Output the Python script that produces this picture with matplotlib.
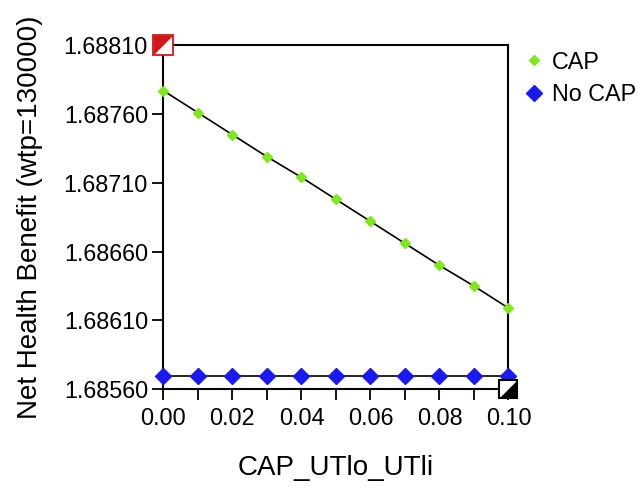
import numpy as np
import matplotlib.pyplot as plt
from matplotlib.lines import Line2D
from matplotlib.ticker import MultipleLocator, FormatStrFormatter

plt.rcParams['font.family'] = ['Liberation Sans', 'DejaVu Sans']

# data
cap_utlo = [0.00, 0.01, 0.02, 0.03, 0.04, 0.05, 0.06, 0.07, 0.08, 0.09, 0.10]
nhb_cap = [1.68777, 1.68761, 1.68745, 1.68729, 1.68714, 1.68698,
           1.68682, 1.68666, 1.68650, 1.68635, 1.68619]
nhb_nocap = [1.68570] * 11
series_names = ['CAP', 'No CAP']
y_ticks = [1.68560, 1.68610, 1.68660, 1.68710, 1.68760, 1.68810]
x_ticks = [0.00, 0.02, 0.04, 0.06, 0.08, 0.10]

fig = plt.figure(figsize=(6.38, 4.86), dpi=100)
ax = fig.add_axes([0.256, 0.199, 0.541, 0.708])

green = '#7fe81c'
blue = '#1a1af0'

ax.plot(cap_utlo, nhb_cap, color='black', lw=1.2, zorder=2)
ax.plot(cap_utlo, nhb_cap, 'D', color=green, ms=5.5, mec=green, zorder=3, clip_on=False)
ax.plot(cap_utlo, nhb_nocap, color='black', lw=1.2, zorder=2)
ax.plot(cap_utlo, nhb_nocap, 'D', color=blue, ms=8.5, mec=blue, zorder=3, clip_on=False)

ax.set_xlim(x_ticks[0], x_ticks[-1])
ax.set_ylim(y_ticks[0], y_ticks[-1])

# corner markers (TreeAge style)
upper_tri = [(-1, -1), (-1, 1), (1, 1), (-1, -1)]
lower_tri = [(-1, -1), (1, -1), (1, 1), (-1, -1)]
ax.plot([x_ticks[0]], [y_ticks[-1]], 's', ms=14, mfc='white', mec='#d01818', mew=1.3,
        clip_on=False, zorder=5)
ax.plot([x_ticks[0]], [y_ticks[-1]], marker=upper_tri, ms=14, color='#d01818', mew=0,
        clip_on=False, zorder=6)
ax.plot([x_ticks[-1]], [y_ticks[0]], 's', ms=12.5, mfc='white', mec='black', mew=1.5,
        clip_on=False, zorder=5)
ax.plot([x_ticks[-1]], [y_ticks[0]], marker=lower_tri, ms=12.5, color='black', mew=0,
        clip_on=False, zorder=6)

ax.set_yticks(y_ticks)
ax.yaxis.set_major_formatter(FormatStrFormatter('%.5f'))
ax.set_xticks(x_ticks)
ax.xaxis.set_major_formatter(FormatStrFormatter('%.2f'))
ax.xaxis.set_minor_locator(MultipleLocator(0.01))
ax.tick_params(axis='both', which='both', direction='out', length=8, width=1.3,
               labelsize=16.8)
ax.tick_params(axis='x', which='both', pad=5)
ax.tick_params(axis='y', which='both', pad=3)
for s in ax.spines.values():
    s.set_linewidth(1.5)

ax.set_xlabel('CAP_UTlo_UTli', fontsize=20, labelpad=18)
ax.set_ylabel('Net Health Benefit (wtp=130000)', fontsize=20, labelpad=15)

handles = [Line2D([], [], ls='none', marker='D', color=green, ms=5.5),
           Line2D([], [], ls='none', marker='D', color=blue, ms=8.5)]
fig.legend(handles, series_names, loc='upper left', bbox_to_anchor=(0.8036, 0.915),
           frameon=False, fontsize=16.8, handletextpad=0.3, labelspacing=0.4,
           handlelength=1.0, borderaxespad=0)

fig.savefig('out.png', dpi=100)
